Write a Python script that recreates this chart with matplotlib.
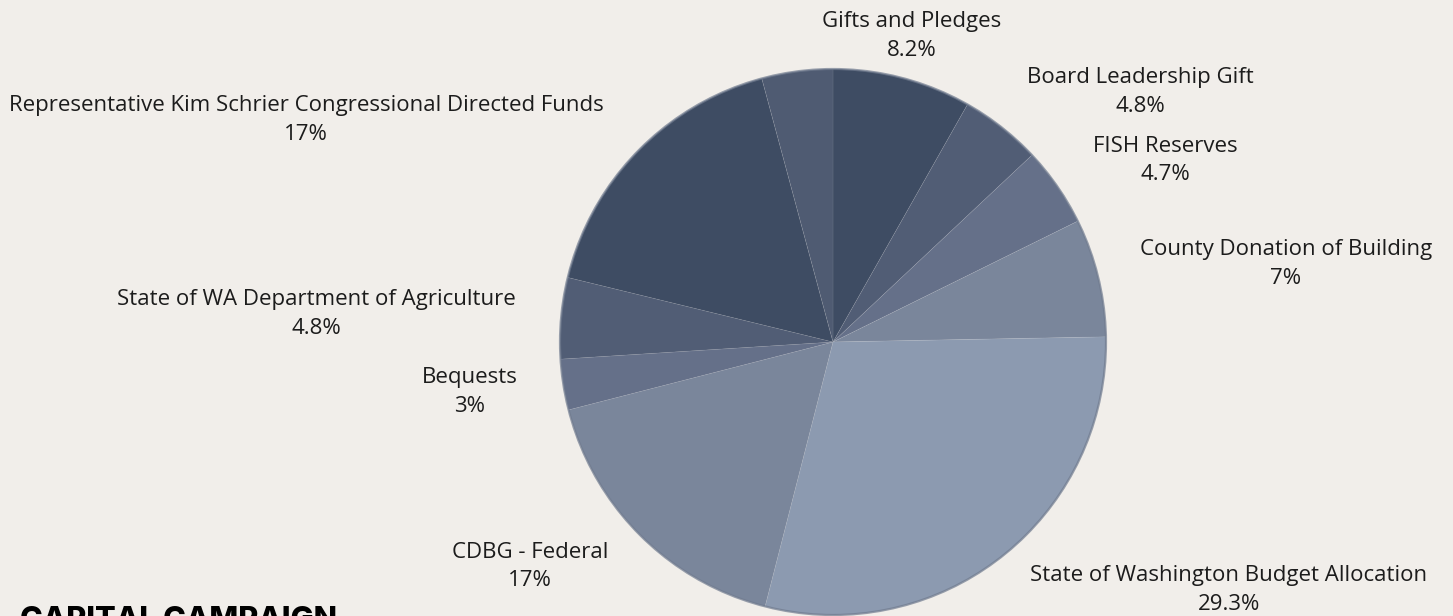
import matplotlib.pyplot as plt
from matplotlib.patches import Circle

plt.rcParams['font.family'] = ['Open Sans', 'DejaVu Sans']

# slices, clockwise from 12 o'clock
names = ["Gifts and Pledges", "Board Leadership Gift", "FISH Reserves",
         "County Donation of Building", "State of Washington Budget Allocation",
         "CDBG - Federal", "Bequests", "State of WA Department of Agriculture",
         "Representative Kim Schrier Congressional Directed Funds", ""]
shares = [8.2, 4.8, 4.7, 7, 29.3, 17, 3, 4.8, 17, 4.2]
pct_text = ["8.2%", "4.8%", "4.7%", "7%", "29.3%", "17%", "3%", "4.8%", "17%", ""]
colors = ["#3e4c63", "#515d75", "#657089", "#7a869b", "#8c9ab0",
          "#7a869b", "#657089", "#515d75", "#3e4c63", "#4f5b72"]

# label anchor points (pixels, from top-left)
label_xy = [(912, 22), (1140, 78), (1165, 146), (1286, 250), (1229, 575),
            (530, 552), (470, 378), (316, 300), (306, 106), None]

W, H = 1453, 616
fig = plt.figure(figsize=(W / 100, H / 100), dpi=100, facecolor="#f1eeea")
ax = fig.add_axes([0, 0, 1, 1])

cx, cy, r = 833, H - 342, 273
ax.pie(shares, colors=colors, startangle=90, counterclock=False,
       center=(cx, cy), radius=r, frame=True,
       wedgeprops=dict(linewidth=0.6, edgecolor=(1, 1, 1, 0.08)))
ax.set_xlim(0, W)
ax.set_ylim(0, H)
ax.set_aspect("equal")
ax.axis("off")
ax.add_patch(Circle((cx, cy), r, fill=False, edgecolor="#6f7a8e", lw=1.6, alpha=0.7))

for name, pct, xy in zip(names, pct_text, label_xy):
    if xy is None:
        continue
    x, y = xy
    ax.text(x, H - y, name, ha="center", va="center", fontsize=16, color="#1c1c1c")
    ax.text(x, H - y - 29, pct, ha="center", va="center", fontsize=16, color="#1c1c1c")

ax.text(20, H - 606, "CAPITAL CAMPAIGN", ha="left", va="top", fontsize=22,
        fontweight="heavy", family=["Inter", "DejaVu Sans"], color="#000000")

fig.savefig("out.png", dpi=100, facecolor=fig.get_facecolor())
